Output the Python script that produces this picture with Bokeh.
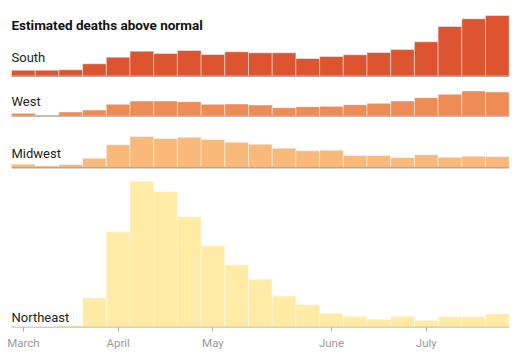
from bokeh.plotting import figure
from bokeh.models import Range1d, FixedTicker, ColumnDataSource
from bokeh.core.properties import value
from bokeh.embed import file_html
from bokeh.resources import INLINE

# ---- data (estimated weekly deaths above normal) ----
weeks = list(range(21))
tick_weeks = [0, 4, 8, 13, 17]
tick_labels = ["March", "April", "May", "June", "July"]

regions = ["South", "West", "Midwest", "Northeast"]
south = [720, 720, 770, 1490, 2280, 3000, 2720, 3080, 2600, 2930, 2810,
         2810, 2120, 2360, 2570, 2840, 3200, 4130, 5960, 6890, 7280]
west = [320, 0, 480, 720, 1400, 1800, 1800, 1720, 1400, 1440, 1320,
        1000, 1120, 1160, 1360, 1520, 1800, 2200, 2600, 3000, 2880]
midwest = [430, 240, 400, 1150, 2760, 3760, 3520, 3670, 3400, 3070, 2830,
           2350, 2040, 2110, 1480, 1480, 1240, 1560, 1270, 1390, 1360]
northeast = [0, -130, 240, 3560, 11480, 17560, 16320, 13320, 9800, 7520, 5800,
             3800, 2760, 1720, 1360, 1000, 1360, 880, 1320, 1320, 1640]
series = [south, west, midwest, northeast]

# ---- layout / style ----
W, H = 518, 355
FRAME_H = 327          # frame bottom = Northeast baseline
K = 120.0              # deaths per pixel (shared scale)
BAR_PX = 23.7
LEFT = 11
colors = ["#dc5530", "#ef8b55", "#f9b97a", "#ffeba6"]
baselines = [75.7, 115.5, 167.3, 327.0]          # pixel row of each baseline
label_lift = [19.0, 14.5, 14.5, 10.3]            # label text baseline above panel baseline
title_row = 24.0

x_start = -0.5 - LEFT / BAR_PX
x_end = x_start + W / BAR_PX

p = figure(width=W, height=H, output_backend="svg", toolbar_location=None,
           x_range=Range1d(x_start, x_end),
           y_range=Range1d(-(FRAME_H - baselines[3]) * K, baselines[3] * K),
           min_border_left=0, min_border_right=0, min_border_top=0,
           min_border_bottom=H - FRAME_H)
p.outline_line_color = None
p.background_fill_color = "white"
p.border_fill_color = "white"
p.grid.visible = False
p.yaxis.visible = False

names = ["south", "west", "midwest", "default"]
for i in range(3):
    b = baselines[i]
    p.extra_y_ranges[names[i]] = Range1d(-(FRAME_H - b) * K, b * K)

n = len(weeks)
for i, (reg, vals) in enumerate(zip(regions, series)):
    fills = [colors[i] if v >= 0 else "#b5b5b5" for v in vals]
    src = ColumnDataSource(dict(x=weeks, top=vals, fill=fills))
    p.vbar(x="x", top="top", bottom=0, width=1.0, source=src,
           fill_color="fill", line_color="white", line_alpha=0.45, line_width=1,
           y_range_name=names[i])
    p.segment(x0=[-0.5], x1=[n - 0.5], y0=[0], y1=[0], line_color="#a9a9a9",
              line_width=1.5, y_range_name=names[i])
    p.text(x=[-0.5], y=[label_lift[i] * K], text=[reg], text_align="left",
           text_baseline="alphabetic", text_font=value("Roboto"),
           text_font_size="13px", text_color="#222222", y_range_name=names[i])

# title
p.text(x=[-0.5], y=[(baselines[0] - title_row) * K], text=["Estimated deaths above normal"],
       text_align="left", text_baseline="alphabetic", text_font=value("Roboto"),
       text_font_style="bold", text_font_size="13.5px", text_color="#121212",
       y_range_name="south")

ax = p.xaxis[0]
ax.ticker = FixedTicker(ticks=tick_weeks)
ax.major_label_overrides = {t: l for t, l in zip(tick_weeks, tick_labels)}
ax.axis_line_color = None
ax.major_tick_in = 0
ax.major_tick_out = 4
ax.major_tick_line_color = "#aaaaaa"
ax.minor_tick_line_color = None
ax.major_label_standoff = 4
ax.major_label_text_font = "Roboto"
ax.major_label_text_font_size = "11.5px"
ax.major_label_text_color = "#9a9a9a"

open("out.html", "w").write(file_html(p, INLINE))
